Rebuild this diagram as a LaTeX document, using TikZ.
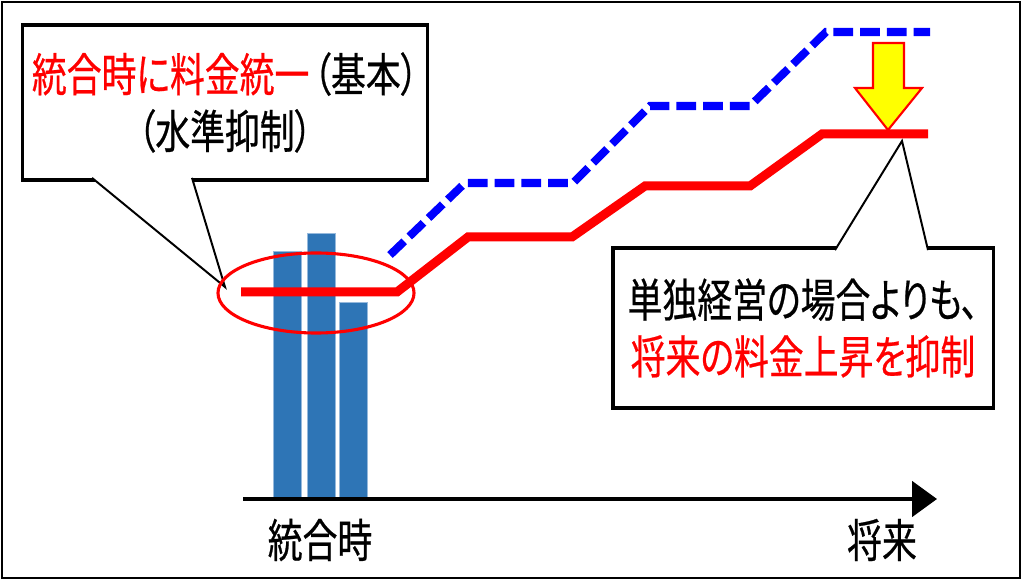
\documentclass[tikz,border=0pt]{standalone}
\usepackage{fontspec}
\usepackage{tikz}
\usetikzlibrary{arrows.meta, shapes.geometric, positioning, calc}
\newfontfamily\jpfont[FakeStretch=0.76, FakeBold=0.5, RawFeature=+palt]{Noto Sans CJK JP}
\newcommand{\jpsize}{\fontsize{32.6pt}{40.4pt}\selectfont}
\definecolor{myred}{RGB}{255,0,0}
\definecolor{myblue}{RGB}{0,0,255}
\definecolor{barblue}{RGB}{46,117,182}
\definecolor{baredge}{RGB}{150,185,220}
\definecolor{myyellow}{RGB}{255,255,0}
\tikzset{
  notebox/.style={rectangle, draw=black, fill=white, line width=2.2pt,
    align=center, font=\jpfont\jpsize, inner sep=0pt},
  pointer/.style={draw=black, fill=white, line width=1.4pt},
  label/.style={font=\jpfont\jpsize, inner sep=0pt},
  bar/.style={fill=barblue, draw=baredge, line width=0.5pt},
  axis/.style={-{Triangle[length=17.7pt, width=25pt]}, line width=2.8pt, color=black},
  ratered/.style={line width=6.4pt, color=myred},
  rateblue/.style={line width=5.7pt, color=myblue, dash pattern=on 14pt off 5pt}
}

\begin{document}
\begin{tikzpicture}[x=0.025cm, y=-0.025cm]
  \useasboundingbox (0,0) rectangle (1024,582);
  \draw[line width=1.4pt] (2,2) rectangle (1020,578);

  % Callout: merger
  \node[notebox, minimum width=10.1cm, minimum height=3.875cm] (merge) at (225,102.5)
    {{\color{myred}統合時に料金統一}\kern3pt（基本）\\（水準抑制）};
  \coordinate (mergeL) at (92,180);
  \coordinate (mergeR) at (192,180);
  \coordinate (mergeTip) at (225,287);
  \filldraw[pointer] ([yshift=1.5pt]mergeL) -- (mergeTip) -- ([yshift=1.5pt]mergeR);

  % Callout: future
  \node[notebox, minimum width=9.5cm, minimum height=4.0cm] (alone) at (803,328)
    {単独経営の場合よりも、\\{\color{myred}将来の料金上昇を抑制}};
  \coordinate (aloneL) at (835,248);
  \coordinate (aloneR) at (928,248);
  \coordinate (aloneTip) at (902,141);
  \filldraw[pointer] ([yshift=-1.5pt]aloneL) -- (aloneTip) -- ([yshift=-1.5pt]aloneR);

  % Bars at merger
  \foreach \bx/\by in {273/251, 307/233, 339/302}
    \draw[bar] (\bx,499) rectangle ++(28,\by-499);

  % Time axis
  \coordinate (axisL) at (243,499);
  \coordinate (axisR) at (937,499);
  \draw[axis] (axisL) -- (axisR);
  \node[label] (now) at (320,540) {統合時};
  \node[label] (later) at (882,540) {将来};

  % Rate paths
  \draw[rateblue] (390,255) -- (465,183) -- (573,183) -- (650,106) -- (750,106) -- (826,32) -- (930,32);
  \node[ellipse, draw=myred, line width=2.2pt, minimum width=4.9cm, minimum height=2cm, inner sep=0pt] (focus) at (316,293) {};
  \draw[ratered] (241,292) -- (397,292) -- (468,237) -- (572,237) -- (645,186) -- (750,186) -- (822,134) -- (928,134);

  % Reduction arrow
  \draw[fill=myyellow, draw=myred, line width=1.5pt]
    (873,43) -- (904,43) -- (904,88) -- (922,88) -- (888,130) -- (855,88) -- (873,88) -- cycle;
\end{tikzpicture}
\end{document}
